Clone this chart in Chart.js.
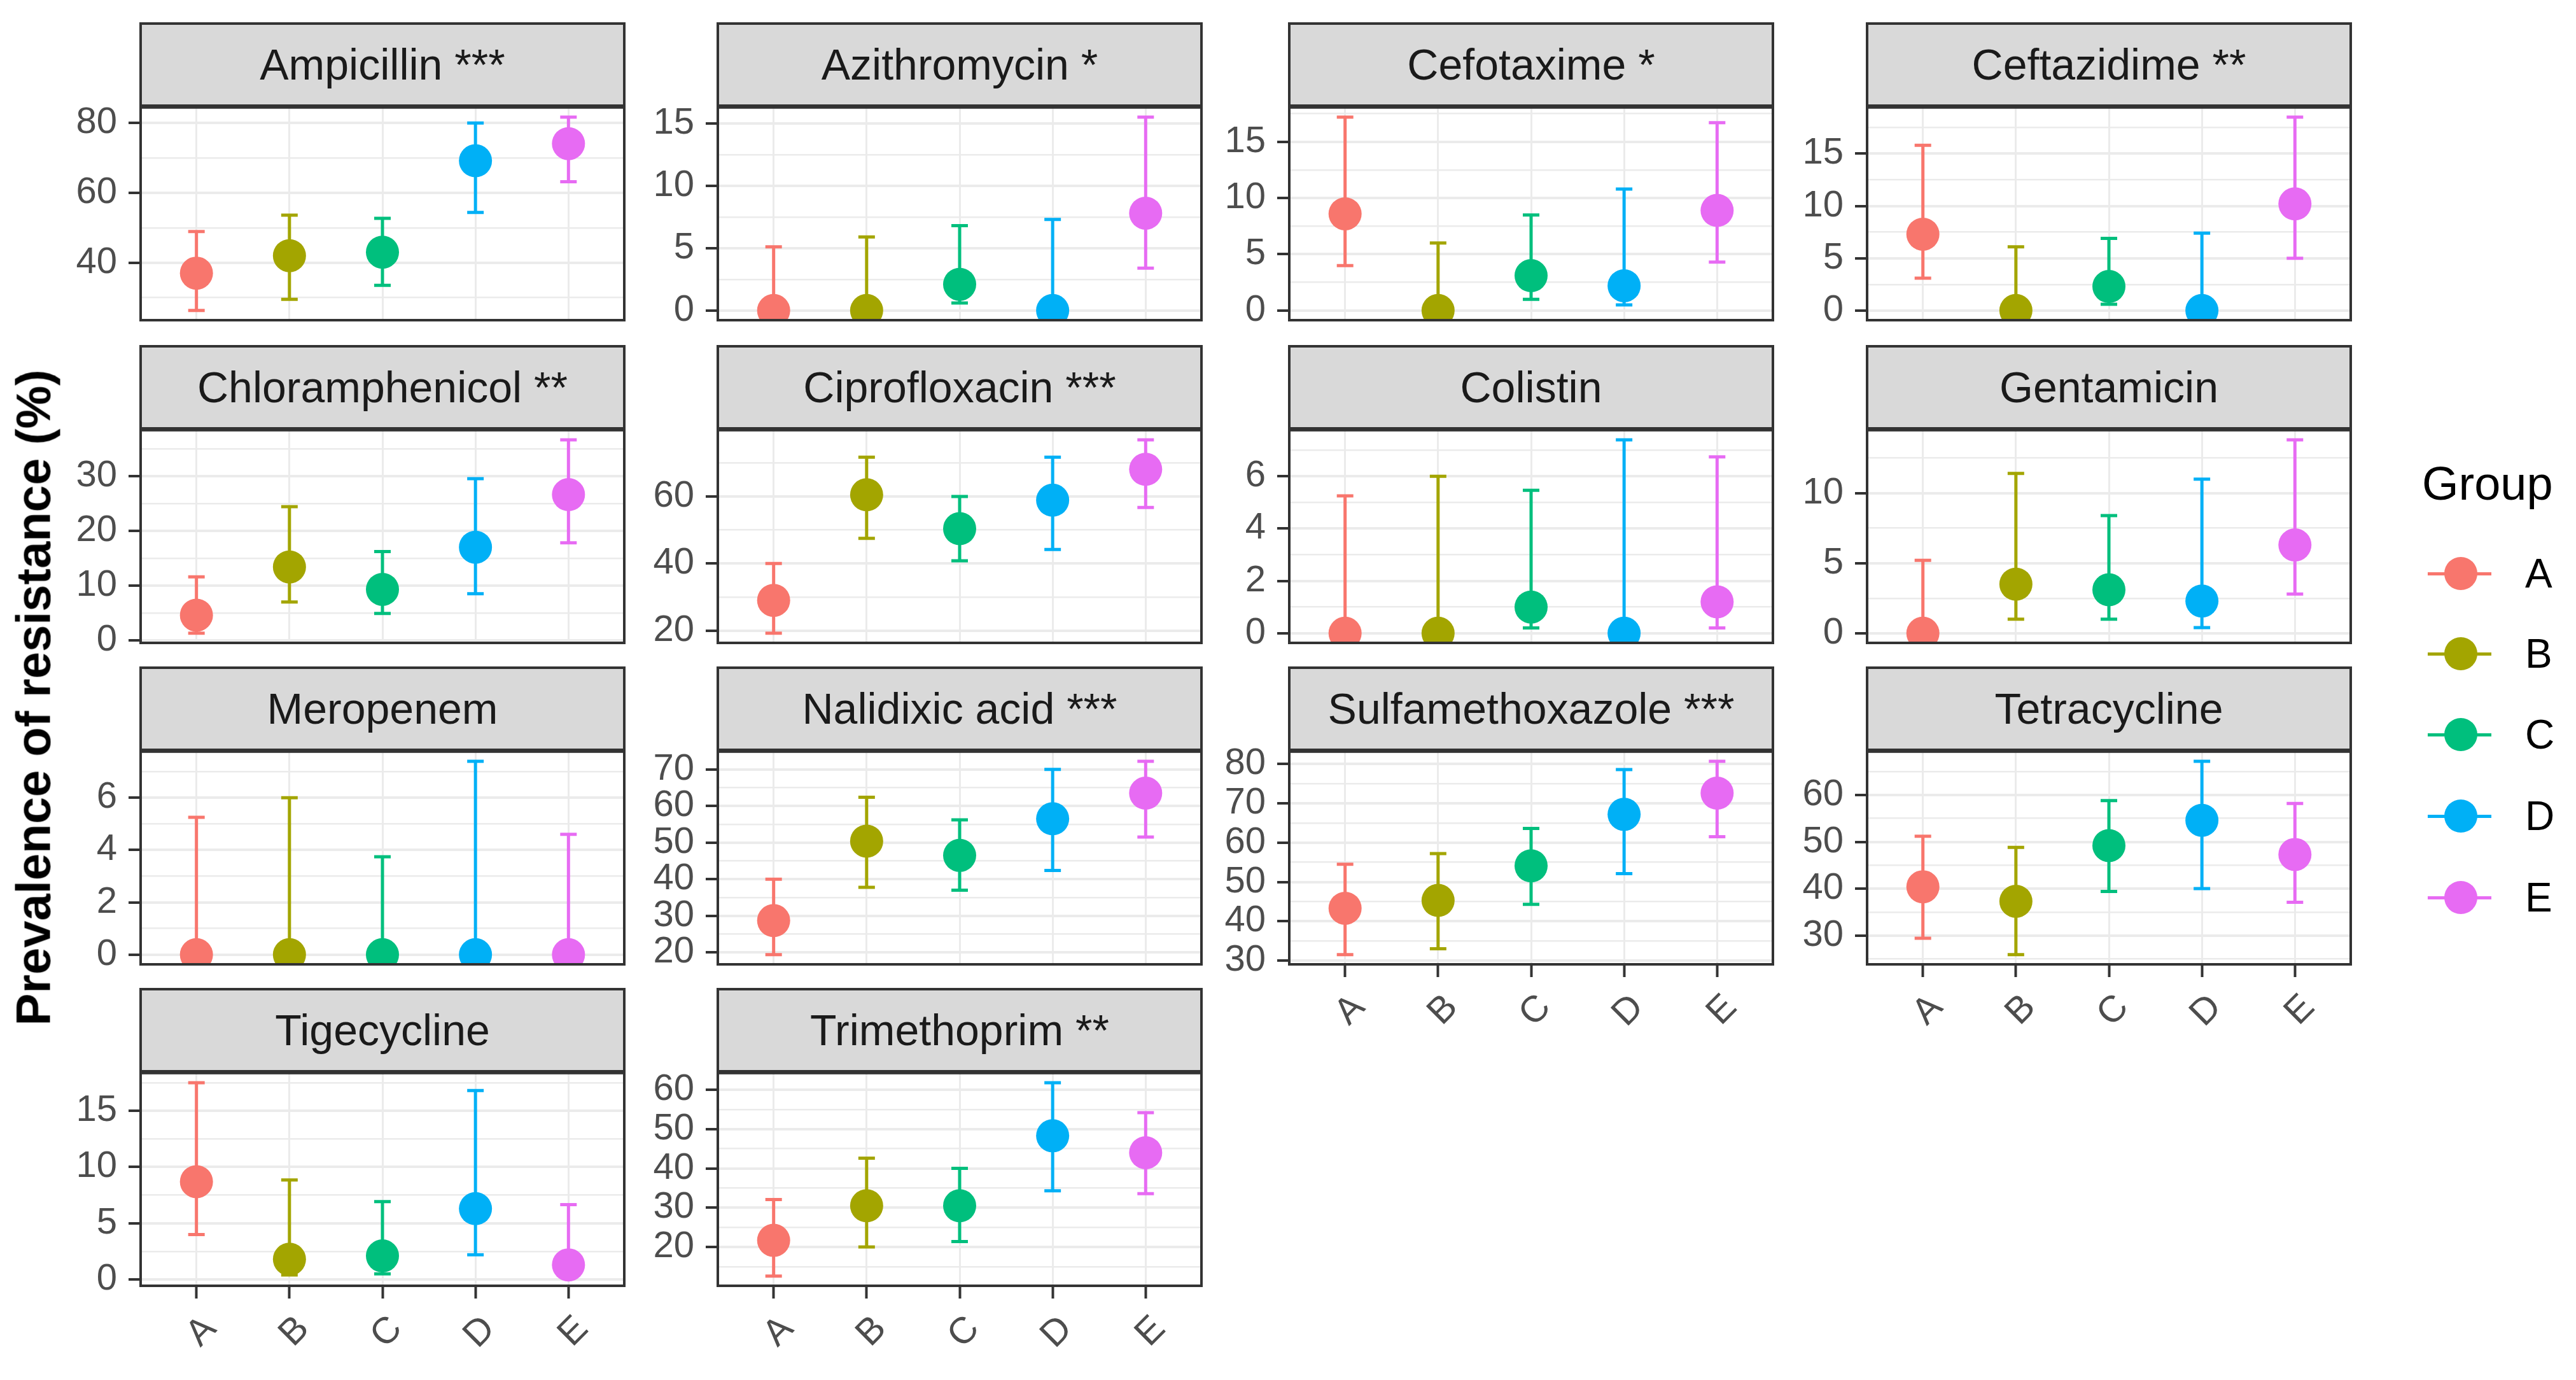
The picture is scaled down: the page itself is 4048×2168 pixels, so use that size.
<!DOCTYPE html>
<html>
<head>
<meta charset="utf-8">
<script src="https://cdn.jsdelivr.net/npm/chart.js@4.4.1/dist/chart.umd.min.js"></script>
<style>
  body { margin: 0; background: #fff; }
  #page { position: relative; width: 4048px; height: 2168px; overflow: hidden; font-family: "Liberation Sans", Arial, sans-serif; }
  .strip { position: absolute; box-sizing: border-box; background: #D9D9D9; border: 4px solid #333; color: #1A1A1A; font-size: 68px; text-align: center; white-space: nowrap; }
  canvas { position: absolute; }
  .ytitle { position: absolute; font-size: 76px; font-weight: bold; color: #000; white-space: nowrap; transform: translate(-50%, -50%) rotate(-90deg); }
  .legend-title { position: absolute; font-size: 74px; color: #000; line-height: 74px; }
  .legend-label { position: absolute; font-size: 64px; color: #000; line-height: 64px; }
  .key-line { position: absolute; height: 5px; }
  .key-dot { position: absolute; width: 52px; height: 52px; border-radius: 50%; }
</style>
</head>
<body>
<div id="page"></div>
<script>
const groups = ['A', 'B', 'C', 'D', 'E'];
const groupColors = ['#F8766D', '#A3A500', '#00BF7D', '#00B0F6', '#E76BF3'];

const antibiotics = [
    'Ampicillin ***', 'Azithromycin *', 'Cefotaxime *', 'Ceftazidime **',
    'Chloramphenicol **', 'Ciprofloxacin ***', 'Colistin', 'Gentamicin',
    'Meropenem', 'Nalidixic acid ***', 'Sulfamethoxazole ***', 'Tetracycline',
    'Tigecycline', 'Trimethoprim **'
];

// prevalence (%) per antibiotic, groups A..E
const prevalence = [
    [37.0, 42.0, 43.0, 69.2, 74.1],
    [0, 0, 2.1, 0, 7.8],
    [8.6, 0, 3.1, 2.2, 8.9],
    [7.3, 0, 2.3, 0, 10.2],
    [4.6, 13.4, 9.3, 17.0, 26.6],
    [29.0, 60.5, 50.4, 58.9, 68.1],
    [0, 0, 1.0, 0, 1.2],
    [0, 3.5, 3.1, 2.3, 6.3],
    [0, 0, 0, 0, 0],
    [28.7, 50.4, 46.5, 56.5, 63.5],
    [43.3, 45.3, 54.1, 67.2, 72.6],
    [40.4, 37.3, 49.2, 54.6, 47.3],
    [8.7, 1.8, 2.1, 6.3, 1.3],
    [21.7, 30.5, 30.5, 48.3, 44.0]
];

const lowerCI = [
    [26.3, 29.5, 33.5, 54.4, 63.2],
    [0, 0, 0.6, 0, 3.4],
    [4.0, 0, 1.0, 0.5, 4.3],
    [3.1, 0, 0.6, 0, 5.0],
    [1.3, 7.0, 4.9, 8.5, 17.8],
    [19.2, 47.5, 40.8, 44.2, 56.7],
    [0, 0, 0.2, 0, 0.2],
    [0, 1.0, 1.0, 0.4, 2.8],
    [0, 0, 0, 0, 0],
    [19.4, 37.8, 37.0, 42.4, 51.5],
    [31.5, 33.0, 44.3, 52.1, 61.5],
    [29.4, 25.9, 39.4, 40.0, 37.1],
    [4.0, 0.4, 0.5, 2.2, 0.3],
    [12.6, 20.0, 21.4, 34.3, 33.6]
];

const upperCI = [
    [48.9, 53.6, 52.7, 80.0, 81.7],
    [5.1, 5.9, 6.8, 7.3, 15.5],
    [17.2, 6.0, 8.5, 10.8, 16.7],
    [15.8, 6.1, 6.9, 7.4, 18.5],
    [11.6, 24.4, 16.2, 29.5, 36.6],
    [40.0, 71.7, 60.0, 71.7, 76.9],
    [5.25, 6.0, 5.46, 7.39, 6.74],
    [5.2, 11.4, 8.4, 11.0, 13.8],
    [5.25, 6.0, 3.74, 7.39, 4.6],
    [40.0, 62.4, 56.2, 70.0, 72.2],
    [54.5, 57.2, 63.6, 78.6, 80.7],
    [51.2, 48.8, 58.8, 67.2, 58.2],
    [17.5, 8.85, 6.93, 16.8, 6.66],
    [32.1, 42.6, 40.0, 61.8, 54.2]
];

const yTickLabels = [
    [40, 60, 80],
    [0, 5, 10, 15],
    [0, 5, 10, 15],
    [0, 5, 10, 15],
    [0, 10, 20, 30],
    [20, 40, 60],
    [0, 2, 4, 6],
    [0, 5, 10],
    [0, 2, 4, 6],
    [20, 30, 40, 50, 60, 70],
    [30, 40, 50, 60, 70, 80],
    [30, 40, 50, 60],
    [0, 5, 10, 15],
    [20, 30, 40, 50, 60]
];

// layout (px)
const COL_LEFT = [221, 1128, 2026, 2934];
const ROW_TOP = [35, 542, 1047, 1552];
const PANEL_W = 760;
const STRIP_H = 131;
const PANEL_H = 337;
const Y_W = 220;
const X_H = 230;
const PAD_T = 50;
const PAD_R = 50;
const CAP = 13;

const page = document.getElementById('page');

function errorBarPlugin(lo, hi) {
    return {
        id: 'errorBars',
        beforeDatasetsDraw(chart) {
            const { ctx, chartArea, scales: { x, y } } = chart;
            ctx.save();
            ctx.beginPath();
            ctx.rect(chartArea.left, chartArea.top, chartArea.width, chartArea.height);
            ctx.clip();
            ctx.lineWidth = 5;
            lo.forEach((v, i) => {
                const px = x.getPixelForValue(i);
                const yTop = y.getPixelForValue(hi[i]);
                const yBot = y.getPixelForValue(v);
                ctx.strokeStyle = groupColors[i];
                ctx.beginPath();
                ctx.moveTo(px, yTop); ctx.lineTo(px, yBot);
                ctx.moveTo(px - CAP, yTop); ctx.lineTo(px + CAP, yTop);
                ctx.moveTo(px - CAP, yBot); ctx.lineTo(px + CAP, yBot);
                ctx.stroke();
            });
            ctx.restore();
        }
    };
}

const panelBorder = {
    id: 'panelBorder',
    afterDraw(chart) {
        const { ctx, chartArea } = chart;
        ctx.save();
        ctx.strokeStyle = '#333333';
        ctx.lineWidth = 4;
        ctx.strokeRect(chartArea.left, chartArea.top, chartArea.width, chartArea.height);
        ctx.restore();
    }
};

function makePanel(p) {
    const col = p % 4, row = Math.floor(p / 4);
    const showX = (row === 3) || (row === 2 && col >= 2);
    const left = COL_LEFT[col], top = ROW_TOP[row];

    const strip = document.createElement('div');
    strip.className = 'strip';
    strip.style.left = (left - 2) + 'px';
    strip.style.top = top + 'px';
    strip.style.width = (PANEL_W + 4) + 'px';
    strip.style.height = (STRIP_H + 2) + 'px';
    strip.style.lineHeight = (STRIP_H - 6) + 'px';
    strip.textContent = antibiotics[p];

    const canvas = document.createElement('canvas');
    canvas.width = Y_W + PANEL_W + PAD_R;
    canvas.height = PAD_T + PANEL_H + X_H;
    canvas.style.left = (left - Y_W) + 'px';
    canvas.style.top = (top + STRIP_H - PAD_T) + 'px';
    page.appendChild(canvas);
    page.appendChild(strip);

    // ggplot-style range: data extent +/- 5%
    const lo = Math.min(...lowerCI[p]), hi = Math.max(...upperCI[p]);
    const pad = (hi - lo) * 0.05;
    const yMin = lo - pad, yMax = hi + pad;

    const majors = yTickLabels[p];
    const step = majors[1] - majors[0];
    const allTicks = [];
    for (let v = majors[0] - step / 2; v <= majors[majors.length - 1] + step / 2 + 1e-9; v += step / 2) {
        if (v >= yMin && v <= yMax) allTicks.push(Math.round(v * 1000) / 1000);
    }
    const isMajor = v => majors.some(m => Math.abs(m - v) < 1e-6);

    new Chart(canvas, {
        type: 'scatter',
        data: {
            datasets: [{
                data: prevalence[p].map((v, i) => ({ x: i, y: v })),
                pointRadius: 26,
                pointHoverRadius: 26,
                pointBorderWidth: 0,
                pointBackgroundColor: groupColors,
                pointBorderColor: groupColors
            }]
        },
        options: {
            responsive: false,
            animation: false,
            devicePixelRatio: 1,
            layout: { padding: { top: PAD_T, right: PAD_R, left: 0, bottom: 0 } },
            plugins: { legend: { display: false }, tooltip: { enabled: false } },
            scales: {
                x: {
                    type: 'linear',
                    min: -0.6,
                    max: 4.6,
                    afterBuildTicks: ax => { ax.ticks = groups.map((g, i) => ({ value: i })); },
                    afterFit: ax => { ax.height = X_H; },
                    border: { display: false },
                    grid: {
                        color: '#EBEBEB',
                        lineWidth: 3,
                        drawTicks: showX,
                        tickLength: 20,
                        tickWidth: 4,
                        tickColor: '#333333'
                    },
                    ticks: {
                        display: showX,
                        autoSkip: false,
                        minRotation: 45,
                        maxRotation: 45,
                        padding: 14,
                        labelOffset: 22,
                        color: '#4D4D4D',
                        font: { family: '"Liberation Sans", Arial, sans-serif', size: 58 },
                        callback: v => groups[v]
                    }
                },
                y: {
                    type: 'linear',
                    min: yMin,
                    max: yMax,
                    bounds: 'data',
                    afterBuildTicks: ax => { ax.ticks = allTicks.map(v => ({ value: v })); },
                    afterFit: ax => { ax.width = Y_W; },
                    border: { display: false },
                    grid: {
                        color: '#EBEBEB',
                        lineWidth: ctx => isMajor(ctx.tick.value) ? 4 : 2.5,
                        tickLength: 19,
                        tickWidth: 4,
                        tickColor: ctx => isMajor(ctx.tick.value) ? '#333333' : 'rgba(0,0,0,0)'
                    },
                    ticks: {
                        autoSkip: false,
                        padding: 18,
                        color: '#4D4D4D',
                        font: { family: '"Liberation Sans", Arial, sans-serif', size: 58 },
                        callback: v => isMajor(v) ? String(Math.round(v)) : ''
                    }
                }
            }
        },
        plugins: [errorBarPlugin(lowerCI[p], upperCI[p]), panelBorder]
    });
}

antibiotics.forEach((name, p) => makePanel(p));

// y axis title
const yTitle = document.createElement('div');
yTitle.className = 'ytitle';
yTitle.style.left = '52px';
yTitle.style.top = '1096px';
yTitle.textContent = 'Prevalence of resistance (%)';
page.appendChild(yTitle);

// legend
const legendTitle = document.createElement('div');
legendTitle.className = 'legend-title';
legendTitle.style.left = '3806px';
legendTitle.style.top = (760 - 37) + 'px';
legendTitle.textContent = 'Group';
page.appendChild(legendTitle);

const KEY_Y = [901, 1027, 1154, 1282, 1410];
groups.forEach((g, i) => {
    const line = document.createElement('div');
    line.className = 'key-line';
    line.style.left = '3815px';
    line.style.width = '100px';
    line.style.top = (KEY_Y[i] - 2) + 'px';
    line.style.background = groupColors[i];
    page.appendChild(line);

    const dot = document.createElement('div');
    dot.className = 'key-dot';
    dot.style.left = (3867 - 26) + 'px';
    dot.style.top = (KEY_Y[i] - 26) + 'px';
    dot.style.background = groupColors[i];
    page.appendChild(dot);

    const label = document.createElement('div');
    label.className = 'legend-label';
    label.style.left = '3968px';
    label.style.top = (KEY_Y[i] - 32) + 'px';
    label.textContent = g;
    page.appendChild(label);
});
</script>
</body>
</html>
